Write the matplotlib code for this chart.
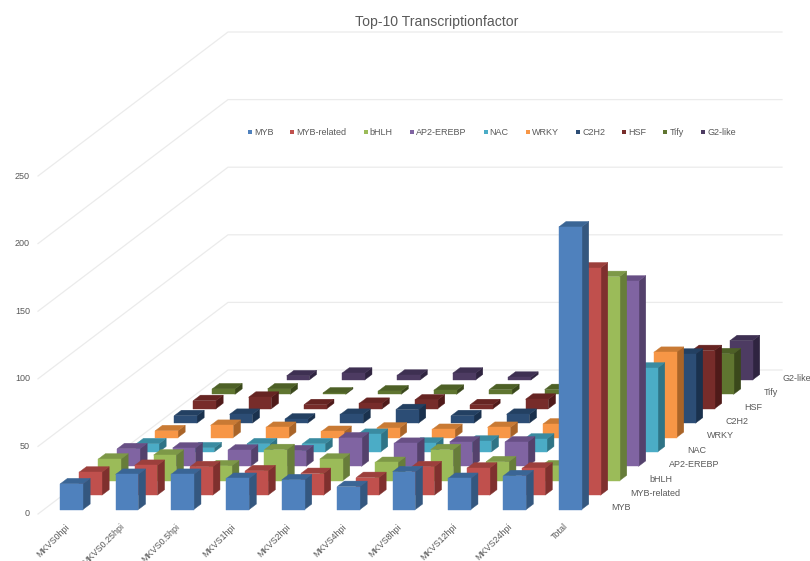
"""Top-10 transcription factor counts per sample, as an oblique 3D column chart."""

import matplotlib

matplotlib.use("Agg")

import matplotlib.pyplot as plt
from matplotlib.lines import Line2D
from matplotlib.patches import Polygon

samples = [
    "MKVS0hpi", "MKVS0.25hpi", "MKVS0.5hpi", "MKVS1hpi", "MKVS2hpi",
    "MKVS4hpi", "MKVS8hpi", "MKVS12hpi", "MKVS24hpi", "Total",
]
families = ["MYB", "MYB-related", "bHLH", "AP2-EREBP", "NAC", "WRKY", "C2H2", "HSF", "Tify", "G2-like"]
value_ticks = [0, 50, 100, 150, 200, 250]

myb = [19, 26, 26, 23, 22, 17, 28, 23, 25, 209]
myb_related = [17, 22, 21, 18, 16, 13, 21, 20, 20, 168]
bhlh = [16, 19, 11, 23, 16, 13.5, 23, 14, 11, 151]
ap2_erebp = [13, 13.5, 12, 11.5, 21, 17, 18, 18, 10, 137]
nac = [6, 3, 6, 6, 13, 6.5, 8, 9.5, 5, 62]
wrky = [5, 9, 7.5, 4.5, 7, 6, 7.5, 10, 6, 63]
c2h2 = [5.5, 6.5, 3, 6.5, 10, 5.5, 6.5, 6, 5, 51]
hsf = [6, 8.5, 3, 4, 6.5, 3, 7, 5, 5, 43]
tify = [4, 4, 1, 2.5, 3, 3.5, 3.5, 3, 3, 30]
g2_like = [0, 3, 5, 3.5, 5, 2, 3, 3, 3, 29]
series = [myb, myb_related, bhlh, ap2_erebp, nac, wrky, c2h2, hsf, tify, g2_like]

# (front, side, top) shades per family
shades = [
    ("#4f81bd", "#34577f", "#3a6595"),
    ("#c0504d", "#7f302e", "#9c3f3c"),
    ("#9bbb59", "#677d3a", "#7d9847"),
    ("#8064a2", "#54416c", "#684f85"),
    ("#4bacc6", "#2f7486", "#3a8ba1"),
    ("#f79646", "#a96428", "#c97a34"),
    ("#2c4d75", "#1a314d", "#234062"),
    ("#772c2a", "#4f1a19", "#662422"),
    ("#5f7530", "#3a481b", "#4d6026"),
    ("#4d3b62", "#2f2440", "#3e3052"),
]

TEXT = "#595959"
GRID = "#ebebeb"

# Floor layout in figure pixels: front-left corner, slot sizes, value scale
X0, Y0 = 38.0, 514.0
SLOT_W = 55.4
ROW_DX, ROW_DY = 19.0, 14.4
PX_PER_UNIT = 1.352
BAR_HALF_W = 0.205
BAR_HALF_D = 0.19


def project(cat, row, value=0.0):
    """Oblique projection of (category, series row, value) to pixel coordinates."""
    x = X0 + SLOT_W * cat + ROW_DX * row
    y = Y0 - ROW_DY * row - PX_PER_UNIT * value
    return x, y


def draw_column(ax, cat, row, value, colors):
    front, side, top = colors
    c0, c1 = cat + 0.5 - BAR_HALF_W, cat + 0.5 + BAR_HALF_W
    r0, r1 = row + 0.5 - BAR_HALF_D, row + 0.5 + BAR_HALF_D
    faces = [
        (side, [(c1, r0, 0), (c1, r1, 0), (c1, r1, value), (c1, r0, value)]),
        (top, [(c0, r0, value), (c1, r0, value), (c1, r1, value), (c0, r1, value)]),
        (front, [(c0, r0, 0), (c1, r0, 0), (c1, r0, value), (c0, r0, value)]),
    ]
    for color, corners in faces:
        pts = [project(*p) for p in corners]
        ax.add_patch(Polygon(pts, closed=True, facecolor=color, edgecolor=color, linewidth=0.3))


plt.rcParams["font.family"] = ["Liberation Sans", "DejaVu Sans"]

fig = plt.figure(figsize=(8.1, 5.61), dpi=100)
ax = fig.add_axes([0, 0, 1, 1])
ax.set_xlim(0, 810)
ax.set_ylim(561, 0)
ax.axis("off")

n_cats = len(samples)
n_rows = len(families)

# Gridlines run along the side wall, then across the back wall
for tick in value_ticks:
    pts = [project(0, 0, tick), project(0, n_rows, tick), project(n_cats, n_rows, tick)]
    ax.plot(*zip(*pts), color=GRID, linewidth=0.9, zorder=0, solid_joinstyle="miter")
    x, y = project(0, 0, tick)
    ax.text(x - 8, y, str(tick), ha="right", va="center", fontsize=6.5, color=TEXT)

# Back rows first so nearer columns paint over them
for row in range(n_rows - 1, -1, -1):
    for cat in range(n_cats):
        if series[row][cat] > 0:
            draw_column(ax, cat, row, series[row][cat], shades[row])

for cat, label in enumerate(samples):
    x, y = project(cat + 0.5, 0)
    ax.text(x - 1, y + 8, label, rotation=45, rotation_mode="anchor", ha="right", va="top",
            fontsize=6.5, color=TEXT, clip_on=False)

for row, label in enumerate(families):
    x, y = project(n_cats, row + 0.5)
    ax.text(x + 10, y + 1, label, ha="left", va="center", fontsize=6.5, color=TEXT)

handles = [
    Line2D([], [], linestyle="none", marker="s", markersize=3.2, markeredgewidth=0,
           markerfacecolor=shades[i][0], label=families[i])
    for i in range(n_rows)
]
ax.legend(
    handles=handles,
    ncol=n_rows,
    loc="center left",
    bbox_to_anchor=(247.5, 132.7),
    bbox_transform=ax.transData,
    frameon=False,
    fontsize=6.5,
    labelcolor=TEXT,
    borderpad=0,
    borderaxespad=0,
    columnspacing=1.87,
    handlelength=0.5,
    handletextpad=0.2,
    numpoints=1,
)

ax.text(437, 22, "Top-10 Transcriptionfactor", ha="center", va="center", fontsize=10.1, color=TEXT)

fig.savefig("out.png", dpi=100)
